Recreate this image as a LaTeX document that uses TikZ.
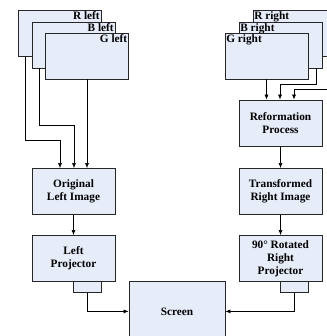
\documentclass[tikz,border=0pt]{standalone}
\usepackage{fontspec}
\setmainfont{Liberation Serif}
\usetikzlibrary{arrows.meta}
\definecolor{boxfill}{RGB}{230,236,248}
\tikzstyle{bx}=[rectangle,draw=black!85,fill=boxfill,line width=.8pt,minimum width=83pt,minimum height=46pt,inner sep=1pt,align=center,font=\fontsize{11.3}{13}\selectfont\bfseries]
\tikzstyle{tag}=[inner sep=1.5pt,font=\fontsize{11.3}{13}\selectfont\bfseries]
\tikzstyle{lens}=[rectangle,draw=black!85,fill=boxfill,line width=.8pt,minimum width=28pt,minimum height=11pt,inner sep=0pt]
\tikzstyle{ar}=[line width=.6pt,-{Latex[length=5pt,width=4pt]}]

\begin{document}
\begin{tikzpicture}[x=1pt,y=-1pt]
\useasboundingbox (0,0) rectangle (326,336);
% left stack
\node[bx,label={[tag,anchor=north east]north east:R left}] (rl) at (59.5,33.5) {};
\node[bx,label={[tag,anchor=north east]north east:B left}] (bl) at (73.5,45) {};
\node[bx,label={[tag,anchor=north east]north east:G left}] (gl) at (87,56) {};
% right stack
\node[bx,label={[tag,anchor=north west]north west:R right}] (rr) at (294.5,33.5) {};
\node[bx,label={[tag,anchor=north west]north west:B right}] (br) at (280.5,45) {};
\node[bx,label={[tag,anchor=north west]north west:G right}] (gr) at (266.5,56) {};
% left column
\node[bx] (orig) at (73.5,191.5) {Original\\Left Image};
\node[bx] (lproj) at (73.5,258.5) {Left\\Projector};
\node[lens,anchor=north] (llens) at (87,281) {};
% right column
\node[bx] (refo) at (280.5,123) {Reformation\\Process};
\node[bx] (trans) at (280.5,191.5) {Transformed\\Right Image};
\node[bx] (rproj) at (280.5,258.5) {90\textdegree{} Rotated\\Right\\Projector};
\node[lens,anchor=north] (rlens) at (294,281) {};
% screen
\node[bx,minimum width=96pt,minimum height=60pt,anchor=north] (scr) at (177,281) {Screen};

% left connectors
\draw[ar] (rl.south -| 25,0) -- (25,140) -- (60,140) -- (orig.north -| 60,0);
\draw[ar] (bl.south -| 39,0) -- (39,125) -- (74,125) -- (orig.north -| 74,0);
\draw[ar] (gl.south) -- (orig.north -| gl.south);
\draw[ar] (orig) -- (lproj);
\draw[ar] (llens.south) |- (scr.west);
% right connectors
\draw[ar] (gr.south) -- (refo.north -| gr.south);
\draw[ar] (br.south -| 316,0) -- (316,84) -- (280,84) -- (refo.north -| 280,0);
\draw[ar] (rr.south -| 330,0) -- (330,89) -- (294,89) -- (refo.north -| 294,0);
\draw[ar] (refo) -- (trans);
\draw[ar] (trans) -- (rproj);
\draw[ar] (rlens.south) |- (scr.east);
\end{tikzpicture}
\end{document}
